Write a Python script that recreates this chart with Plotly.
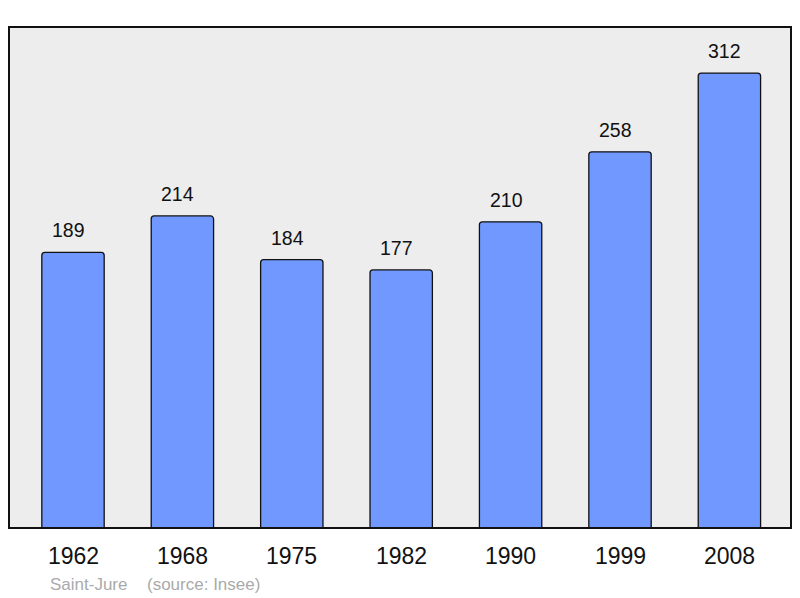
import plotly.graph_objects as go

years = ["1962", "1968", "1975", "1982", "1990", "1999", "2008"]
population = [189, 214, 184, 177, 210, 258, 312]
commune = "Saint-Jure"
source = "(source: Insee)"

xs = list(range(len(years)))

# page body has an 8px margin: plot area target is x 9..791, y 27..528 in the window
W, H = 792, 590
fig = go.Figure()
fig.add_trace(go.Bar(
    x=xs, y=population, width=0.57,
    marker=dict(color="#7098ff", line=dict(color="#111111", width=1.3), cornerradius=3),
    hoverinfo="skip",
))

annotations = []
for x, v in zip(xs, population):
    annotations.append(dict(x=x, y=v, xref="x", yref="y", text=str(v), showarrow=False,
                            yanchor="middle", yshift=22, xshift=-4.5,
                            font=dict(family="Liberation Sans", size=19.5, color="#111111")))
for x, yr in zip(xs, years):
    annotations.append(dict(x=x, y=0, xref="x", yref="paper", text=yr, showarrow=False,
                            yanchor="middle", yshift=-28,
                            font=dict(family="Liberation Sans", size=23, color="#111111")))
plot_w = 782
annotations.append(dict(x=(48 - 9) / plot_w, y=0, xref="paper", yref="paper", text=commune,
                        showarrow=False, xanchor="left", yanchor="middle", yshift=-56,
                        font=dict(family="Liberation Sans", size=17, color="#aaaaaa")))
annotations.append(dict(x=(145 - 9) / plot_w, y=0, xref="paper", yref="paper", text=source,
                        showarrow=False, xanchor="left", yanchor="middle", yshift=-56,
                        font=dict(family="Liberation Sans", size=17, color="#aaaaaa")))

fig.update_layout(
    width=W, height=H,
    margin=dict(l=1, r=W - 1 - plot_w, t=19, b=70, pad=0),
    paper_bgcolor="white", plot_bgcolor="#ededed",
    showlegend=False,
    xaxis=dict(range=[-0.585, 6.563], showgrid=False, zeroline=False, showticklabels=False,
               ticks="", fixedrange=True),
    yaxis=dict(range=[0, 343.6], showgrid=False, zeroline=False, showticklabels=False,
               ticks="", fixedrange=True),
    annotations=annotations,
    shapes=[dict(type="rect", xref="paper", yref="paper", x0=0, y0=0, x1=1, y1=1,
                 line=dict(color="#111111", width=2), layer="above")],
)

fig.write_html("out.html")
